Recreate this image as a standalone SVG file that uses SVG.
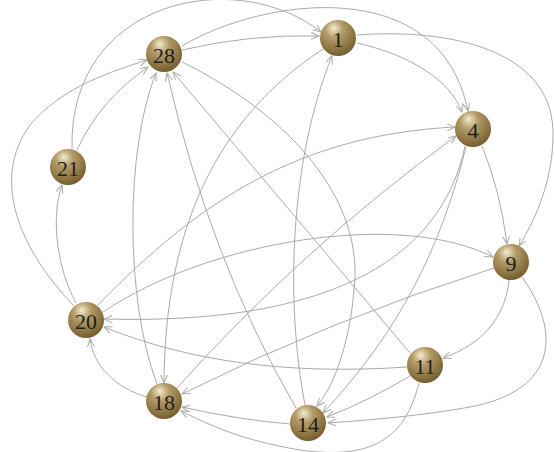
<svg xmlns="http://www.w3.org/2000/svg" width="554" height="452" viewBox="0 0 554 452">
<style>
.e{fill:none;stroke:#aaaaaa;stroke-width:1;marker-end:url(#ah)}
.n circle{fill:url(#g)}
.n text{font-family:"Liberation Serif","Times New Roman",serif;font-size:22px;fill:#1e1e1e;text-anchor:middle;dominant-baseline:central}
</style>
<defs>
<radialGradient id="g" cx="0.42" cy="0.32" r="0.72" fx="0.38" fy="0.22">
<stop offset="0" stop-color="#f4ebd0"/>
<stop offset="0.35" stop-color="#b29b67"/>
<stop offset="0.75" stop-color="#8c7442"/>
<stop offset="1" stop-color="#6d582b"/>
</radialGradient>
<marker id="ah" markerUnits="userSpaceOnUse" markerWidth="10" markerHeight="10" refX="8" refY="3.5" orient="auto">
<path d="M0,0 L8,3.5 L0,7" fill="none" stroke="#aaaaaa" stroke-width="1"/>
</marker>
</defs>
<g id="edges">
<path class="e" d="M182,50 Q250,34 319,36"/>
<path class="e" d="M182,46 C262,-2 440,-28 468,111"/>
<path class="e" d="M72,149 C68,0 235,-35 321,32"/>
<path class="e" d="M357,43 C410,55 450,80 462,112"/>
<path class="e" d="M357,35 C450,28 550,50 553,130 C554,180 535,220 519,246"/>
<path class="e" d="M482,146 Q500,190 507,244"/>
<path class="e" d="M77,150 Q100,100 148,67"/>
<path class="e" d="M74,306 C20,250 -10,180 30,125 C60,90 100,75 147,60"/>
<path class="e" d="M76,303 C58,270 50,220 62,185"/>
<path class="e" d="M157,384 C125,300 125,150 156,73"/>
<path class="e" d="M296,408 Q210,260 167,73"/>
<path class="e" d="M410,353 L173,72"/>
<path class="e" d="M323,49 C215,120 165,230 164,383"/>
<path class="e" d="M182,62 C290,115 365,200 354,290 C350,340 335,385 317,406"/>
<path class="e" d="M305,405 C285,300 290,160 332,56"/>
<path class="e" d="M98,305 C200,200 300,135 455,127"/>
<path class="e" d="M177,388 Q300,250 456,136"/>
<path class="e" d="M465,146 C440,265 320,325 104,319"/>
<path class="e" d="M466,147 C440,250 400,330 323,413"/>
<path class="e" d="M103,312 C210,240 400,210 493,257"/>
<path class="e" d="M494,268 Q330,320 182,394"/>
<path class="e" d="M509,280 C505,320 480,345 443,358"/>
<path class="e" d="M522,277 C560,330 560,390 470,407 C420,416 370,420 328,423"/>
<path class="e" d="M407,367 C290,375 190,362 104,327"/>
<path class="e" d="M410,376 Q370,400 327,417"/>
<path class="e" d="M419,383 C405,440 370,460 300,450 C240,440 210,425 181,411"/>
<path class="e" d="M290,424 Q240,420 182,407"/>
<path class="e" d="M147,397 C115,388 93,365 90,339"/>
</g>
<g id="n28" class="n"><circle cx="164" cy="54" r="18"/><text x="164" y="55">28</text></g>
<g id="n1" class="n"><circle cx="338" cy="38" r="18"/><text x="338" y="39">1</text></g>
<g id="n4" class="n"><circle cx="473" cy="129" r="18"/><text x="473" y="130">4</text></g>
<g id="n21" class="n"><circle cx="68" cy="167" r="18"/><text x="68" y="168">21</text></g>
<g id="n9" class="n"><circle cx="511" cy="262" r="18"/><text x="511" y="263">9</text></g>
<g id="n20" class="n"><circle cx="86" cy="320" r="18"/><text x="86" y="321">20</text></g>
<g id="n11" class="n"><circle cx="425" cy="365" r="18"/><text x="425" y="366">11</text></g>
<g id="n18" class="n"><circle cx="164" cy="401" r="18"/><text x="164" y="402">18</text></g>
<g id="n14" class="n"><circle cx="308" cy="423" r="18"/><text x="308" y="424">14</text></g>
</svg>
